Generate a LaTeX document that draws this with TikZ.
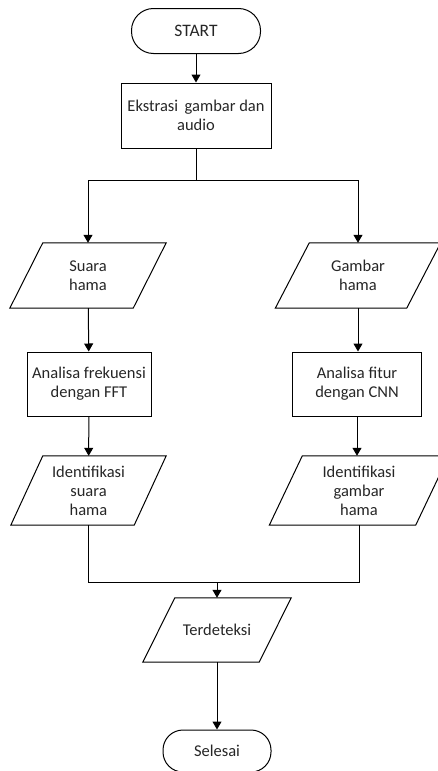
\documentclass[tikz,border=0pt]{standalone}
\usepackage{fontspec}
\setmainfont{Carlito}
\usetikzlibrary{arrows.meta}
\tikzset{
  every node/.style={text=black!85, font=\fontsize{16.5}{19}\selectfont, align=center, inner sep=0pt},
  terminal/.style={draw, rectangle, line width=1pt},
  procbox/.style={draw, rectangle, line width=1pt},
  iobox/.style={rectangle},
  outline/.style={line width=1pt, line join=miter},
  flow/.style={line width=1pt, -{Triangle[width=9pt,length=8pt]}},
  plain/.style={line width=1pt},
}
% parallelogram drawn over the frame of a named node, leaning right by #2
\newcommand\slanted[2]{%
  \draw[outline] (#1.south west) -- ([xshift=-#2]#1.south east) -- (#1.north east)
    -- ([xshift=#2]#1.north west) -- cycle;}
\begin{document}
\begin{tikzpicture}[x=1pt,y=-1pt]
\useasboundingbox (0,0) rectangle (437,771);

% start and extraction
\node[terminal, minimum width=129pt, minimum height=45pt, rounded corners=22pt,
      font=\fontsize{17.5}{20}\selectfont] (start) at (196,31) {START};
\node[procbox, minimum width=150pt, minimum height=65pt] (ekstr) at (196,115.5)
  {Ekstrasi\, gambar dan\\audio};
\coordinate (split) at (196,180);

% audio branch
\node[iobox, minimum width=156pt, minimum height=65pt] (suara) at (88,275.5) {Suara\\hama};
\node[procbox, minimum width=124pt, minimum height=64pt] (fft) at (89,384)
  {Analisa frekuensi\\dengan FFT};
\node[iobox, minimum width=155pt, minimum height=69pt] (idsuara) at (88.5,490.5)
  {Identifikasi\\suara\\hama};

% image branch
\node[iobox, minimum width=165pt, minimum height=65pt] (gambar) at (358,275.5) {Gambar\\hama};
\node[procbox, minimum width=129pt, minimum height=64pt] (cnn) at (357,384)
  {Analisa fitur\\dengan CNN};
\node[iobox, minimum width=179pt, minimum height=69pt] (idgambar) at (359,490.5)
  {Identifikasi\\gambar\\hama};

% merge and end
\coordinate (merge) at (217,582);
\node[iobox, minimum width=148pt, minimum height=64pt] (terdet) at (217,630) {Terdeteksi};
\node[terminal, minimum width=108pt, minimum height=42pt, rounded corners=20pt] (selesai)
  at (217,751) {Selesai};

% input/output outlines
\slanted{suara}{33pt}
\slanted{idsuara}{32pt}
\slanted{gambar}{34pt}
\slanted{idgambar}{33pt}
\slanted{terdet}{32pt}

% connectors
\draw[flow] (start) -- (ekstr);
\draw[plain] (ekstr) -- (split);
\draw[flow] (split) -| (suara.north);
\draw[flow] (split) -| (gambar.north);
\draw[flow] (suara) -- (fft);
\draw[flow] (fft) -- (idsuara);
\draw[flow] (gambar.south) -- (gambar.south |- cnn.north);
\draw[flow] (cnn) -- (cnn |- idgambar.north);
\draw[plain] (idsuara.south) |- (merge);
\draw[plain] (idgambar.south) |- (merge);
\draw[flow] (merge) -- (terdet);
\draw[flow] (terdet) -- (selesai);
\end{tikzpicture}
\end{document}
